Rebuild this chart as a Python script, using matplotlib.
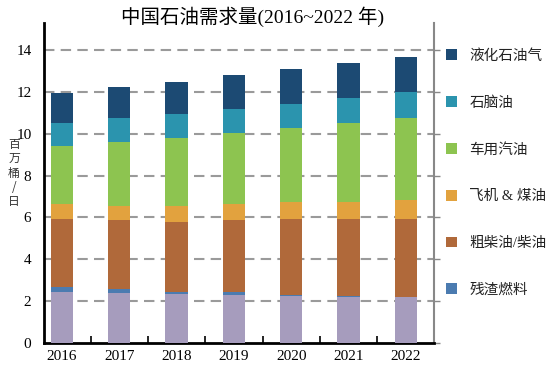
import matplotlib
matplotlib.use("Agg")
import matplotlib.pyplot as plt
from matplotlib.patches import Patch
import numpy as np

years = ["2016", "2017", "2018", "2019", "2020", "2021", "2022"]
other = [2.45, 2.37, 2.33, 2.29, 2.26, 2.21, 2.18]
residual = [0.21, 0.20, 0.09, 0.15, 0.05, 0.05, 0.04]
diesel = [3.28, 3.31, 3.38, 3.42, 3.60, 3.66, 3.70]
jet = [0.70, 0.68, 0.75, 0.80, 0.81, 0.83, 0.90]
gasoline = [2.77, 3.06, 3.23, 3.36, 3.57, 3.76, 3.93]
naphtha = [1.12, 1.12, 1.16, 1.16, 1.13, 1.18, 1.23]
lpg = [1.40, 1.51, 1.55, 1.62, 1.67, 1.69, 1.67]

series = [
    (other, "#a69cbd", None),
    (residual, "#4b7bb0", "残渣燃料"),
    (diesel, "#b0693a", "粗柴油/柴油"),
    (jet, "#e2a23e", "飞机 & 煤油"),
    (gasoline, "#8dc450", "车用汽油"),
    (naphtha, "#2b94ae", "石脑油"),
    (lpg, "#1c4a73", "液化石油气"),
]

serif_cjk = ["Liberation Serif", "Noto Sans CJK SC"]
plt.rcParams["font.family"] = serif_cjk

fig = plt.figure(figsize=(5.5, 3.7), dpi=100)
ax = fig.add_axes([44/550, 1-343/370, (434-44)/550, (343-23)/370])

x = np.arange(len(years))
bottom = np.zeros(len(years))
for vals, col, lab in series:
    ax.bar(x, vals, width=0.39, bottom=bottom, color=col, zorder=3, linewidth=0)
    bottom += np.array(vals)

ax.set_xlim(-0.314, 6.49)
ax.set_ylim(0, 15.29)

for yv in range(2, 15, 2):
    ax.axhline(yv, color="#9a9a9a", lw=1.5, ls=(0, (5, 3)), zorder=1)

ax.set_yticks(range(0, 15, 2))
ax.set_yticklabels([str(v) for v in range(0, 15, 2)], fontsize=11)
ax.tick_params(axis="y", left=False, right=True, direction="out", length=4,
               color="#888888", width=1, pad=5)

ax.set_xticks(x[:-1] + 0.5)
ax.set_xticklabels([])
ax.set_xticks(x, minor=True)
ax.set_xticklabels(years, minor=True, fontsize=11)
ax.tick_params(axis="x", which="major", direction="in", length=5, width=1.2, color="black")
ax.tick_params(axis="x", which="minor", length=0, pad=5)

ax.spines["top"].set_visible(False)
ax.spines["left"].set_linewidth(2)
ax.spines["bottom"].set_linewidth(2)
ax.spines["right"].set_color("#888888")
ax.spines["right"].set_linewidth(1.5)

fig.text(14/550, 1-173/370, "百\n万\n桶\n/\n日", ha="center", va="center",
         fontsize=8.5, linespacing=1.12, family=["Noto Sans CJK SC", "DejaVu Sans"], color="#333333")

fig.text(253/550, 1-17/370, "中国石油需求量(2016~2022 年)", ha="center", va="center",
         fontsize=14, family=serif_cjk)

handles = [Patch(facecolor=c, edgecolor="none", label=l) for v, c, l in series[::-1] if l]
leg = fig.legend(handles=handles, loc="upper left", bbox_to_anchor=(446/550, 1-49/370),
                 frameon=False, fontsize=10.5, handlelength=0.75, handleheight=0.75,
                 handletextpad=0.85, labelspacing=2.28, borderaxespad=0, borderpad=0)
for t in leg.get_texts():
    t.set_color("#222222")

fig.savefig("out.png", dpi=100)
